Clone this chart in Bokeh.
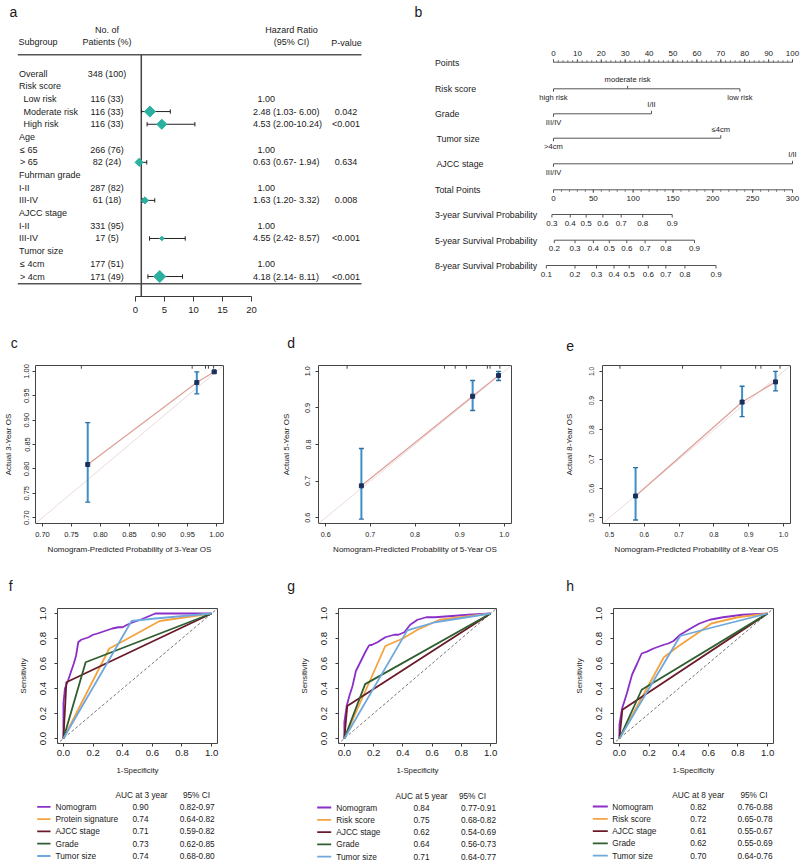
import numpy as np
from bokeh.plotting import figure
from bokeh.models import Range1d, FixedTicker, NumeralTickFormatter, ColumnDataSource
from bokeh.layouts import row, column
from bokeh.embed import file_html
from bokeh.resources import INLINE
from bokeh.core.properties import value

FONT = "Liberation Sans"
TXT = "#1a1a1a"
AXC = "#3a3a3a"
nan = float("nan")

# ================= DATA =================
# ---- panel a: forest plot
fp_labels = ["Overall", "Risk score", "Low risk", "Moderate risk", "High risk",
             "Age", "≤ 65", "> 65", "Fuhrman grade", "I-II", "III-IV",
             "AJCC stage", "I-II", "III-IV", "Tumor size", "≤ 4cm", "> 4cm"]
fp_counts = ["348 (100)", "", "116 (33)", "116 (33)", "116 (33)", "", "266 (76)", "82 (24)",
             "", "287 (82)", "61 (18)", "", "331 (95)", "17 (5)", "", "177 (51)", "171 (49)"]
fp_hr = [nan, nan, 1.00, 2.48, 4.53, nan, 1.00, 0.63, nan, 1.00, 1.63, nan, 1.00, 4.55, nan, 1.00, 4.18]
fp_lo = [nan, nan, nan, 1.03, 2.00, nan, nan, 0.67, nan, nan, 1.20, nan, nan, 2.42, nan, nan, 2.14]
fp_hi = [nan, nan, nan, 6.00, 10.24, nan, nan, 1.94, nan, nan, 3.32, nan, nan, 8.57, nan, nan, 8.11]
fp_p = ["", "", "", "0.042", "<0.001", "", "", "0.634", "", "", "0.008", "", "", "<0.001", "", "", "<0.001"]
fp_axis_ticks = [0, 5, 10, 15, 20]

# ---- panel b: nomogram (points / total points)
nomo_point_ticks = [0, 10, 20, 30, 40, 50, 60, 70, 80, 90, 100]
risk_levels = ["high risk", "moderate risk", "low risk"]
risk_points = [0, 31, 78]
grade_levels = ["III/IV", "I/II"]
grade_points = [0, 41]
size_levels = [">4cm", "≤4cm"]
size_points = [0, 70]
ajcc_levels = ["III/IV", "I/II"]
ajcc_points = [0, 100]
total_ticks = [0, 50, 100, 150, 200, 250, 300]
surv3_probs = [0.3, 0.4, 0.5, 0.6, 0.7, 0.8, 0.9]
surv3_total = [-2, 21, 41, 62, 85, 112, 149]
surv5_probs = [0.2, 0.3, 0.4, 0.5, 0.6, 0.7, 0.8, 0.9]
surv5_total = [1, 27, 50, 70, 92, 115, 141, 177]
surv8_probs = [0.1, 0.2, 0.3, 0.4, 0.5, 0.6, 0.7, 0.8, 0.9]
surv8_total = [-9, 27, 54, 76, 95, 119, 141, 165, 204]

# ---- panels c-e: calibration
c_pred = [0.778, 0.966, 0.996]
c_obs = [0.809, 0.977, 0.999]
c_lo = [0.732, 0.954, 0.997]
c_hi = [0.895, 0.999, 1.000]
c_rug = [0.767, 0.958, 0.981, 0.986, 0.995]
c_ticks = [0.70, 0.75, 0.80, 0.85, 0.90, 0.95, 1.00]

d_pred = [0.680, 0.929, 0.987]
d_obs = [0.687, 0.932, 0.989]
d_lo = [0.596, 0.893, 0.975]
d_hi = [0.789, 0.975, 1.000]
d_rug = [0.648, 0.866, 0.890, 0.915, 0.962, 0.968, 0.990]
d_ticks = [0.6, 0.7, 0.8, 0.9, 1.0]

e_pred = [0.575, 0.881, 0.977]
e_obs = [0.574, 0.895, 0.964]
e_lo = [0.492, 0.845, 0.933]
e_hi = [0.671, 0.949, 1.000]
e_rug = [0.530, 0.710, 0.820, 0.920, 0.935, 0.990]
e_ticks = [0.5, 0.6, 0.7, 0.8, 0.9, 1.0]

# ---- panels f-h: ROC curves
roc_ticks = [0.0, 0.2, 0.4, 0.6, 0.8, 1.0]
f_nomo_x = [0, 0, 0.01, 0.03, 0.05, 0.07, 0.085, 0.10, 0.12, 0.17, 0.20, 0.23, 0.28, 0.33, 0.37, 0.40, 0.43, 0.47, 0.52, 0.56, 0.62, 1]
f_nomo_y = [0, 0.28, 0.40, 0.46, 0.53, 0.60, 0.66, 0.77, 0.79, 0.81, 0.83, 0.84, 0.86, 0.88, 0.89, 0.89, 0.91, 0.93, 0.95, 0.97, 1.00, 1]
f_prot_x = [0, 0.31, 0.42, 0.65, 1]
f_prot_y = [0, 0.72, 0.79, 0.94, 1]
f_ajcc_x = [0, 0.02, 1]
f_ajcc_y = [0, 0.45, 1]
f_grade_x = [0, 0.15, 1]
f_grade_y = [0, 0.61, 1]
f_size_x = [0, 0.46, 0.62, 1]
f_size_y = [0, 0.94, 0.96, 1]

g_nomo_x = [0, 0, 0.016, 0.034, 0.056, 0.079, 0.113, 0.147, 0.169, 0.19, 0.226, 0.28, 0.34, 0.37, 0.41, 0.45, 0.50, 0.56, 0.62, 0.85, 1]
g_nomo_y = [0, 0.13, 0.26, 0.34, 0.42, 0.54, 0.62, 0.70, 0.745, 0.75, 0.77, 0.81, 0.83, 0.83, 0.85, 0.91, 0.95, 0.97, 0.97, 0.99, 1]
g_risk_x = [0, 0.28, 0.40, 0.50, 0.65, 1]
g_risk_y = [0, 0.74, 0.80, 0.87, 0.95, 1]
g_ajcc_x = [0, 0.02, 1]
g_ajcc_y = [0, 0.26, 1]
g_grade_x = [0, 0.142, 1]
g_grade_y = [0, 0.435, 1]
g_size_x = [0, 0.43, 0.62, 1]
g_size_y = [0, 0.865, 0.93, 1]

h_nomo_x = [0, 0, 0.018, 0.05, 0.085, 0.12, 0.15, 0.186, 0.23, 0.30, 0.33, 0.365, 0.41, 0.48, 0.54, 0.61, 0.70, 0.83, 1]
h_nomo_y = [0, 0.11, 0.24, 0.36, 0.51, 0.60, 0.68, 0.695, 0.72, 0.75, 0.76, 0.78, 0.83, 0.88, 0.92, 0.95, 0.97, 0.99, 1]
h_risk_x = [0, 0.30, 0.40, 0.50, 0.62, 0.80, 1]
h_risk_y = [0, 0.65, 0.74, 0.82, 0.92, 0.97, 1]
h_ajcc_x = [0, 0.02, 1]
h_ajcc_y = [0, 0.23, 1]
h_grade_x = [0, 0.15, 1]
h_grade_y = [0, 0.39, 1]
h_size_x = [0, 0.41, 0.60, 1]
h_size_y = [0, 0.82, 0.88, 1]

f_names = ["Nomogram", "Protein signature", "AJCC stage", "Grade", "Tumor size"]
gh_names = ["Nomogram", "Risk score", "AJCC stage", "Grade", "Tumor size"]
f_auc = ["0.90", "0.74", "0.71", "0.73", "0.74"]
f_ci = ["0.82-0.97", "0.64-0.82", "0.59-0.82", "0.62-0.85", "0.68-0.80"]
g_auc = ["0.84", "0.75", "0.62", "0.64", "0.71"]
g_ci = ["0.77-0.91", "0.68-0.82", "0.54-0.69", "0.56-0.73", "0.64-0.77"]
h_auc = ["0.82", "0.72", "0.61", "0.62", "0.70"]
h_ci = ["0.76-0.88", "0.65-0.78", "0.55-0.67", "0.55-0.69", "0.64-0.76"]

# ================= STYLE =================
TEAL = "#2bb0a0"
ROC_COLORS = ["#8b2fc9", "#f4a340", "#6b1a2a", "#2f5e2f", "#6fa8dc"]
fp_indent_px = [18.5, 18.5, 23, 23, 23, 18.5, 19.5, 19.5, 18.5, 18.5, 18.5, 18.5, 18.5, 18.5, 18.5, 19.5, 19.5]
fp_marker_px = [0, 0, 0, 7.8, 7.2, 0, 0, 5.8, 0, 0, 5.0, 0, 0, 3.2, 0, 0, 8.5]


def base_fig(w, h, xr, yr, **kw):
    p = figure(width=w, height=h, x_range=xr, y_range=yr, output_backend="svg",
               toolbar_location=None, **kw)
    p.xgrid.visible = False
    p.ygrid.visible = False
    p.background_fill_color = "white"
    p.border_fill_color = "white"
    return p


def txt(p, x, y, t, size, align="left", baseline="middle", color=TXT, **kw):
    p.text(x=x, y=y, text=t, text_font=value(FONT), text_font_size=size,
           text_align=align, text_baseline=baseline, text_color=color, **kw)


ROW1_H = 318
FRAME1_H = 296

# ================= PANEL A =================
PX0, PXU = 135.0, 5.8


def fx(px):
    return (px - PX0) / PXU


pa = figure(width=400, height=ROW1_H, x_range=Range1d(fx(0), fx(400)), y_range=Range1d(FRAME1_H, 0),
            output_backend="svg", toolbar_location=None, y_axis_location=None,
            min_border_left=0, min_border_right=0, min_border_top=0,
            min_border_bottom=ROW1_H - FRAME1_H)
pa.xgrid.visible = False
pa.ygrid.visible = False
pa.outline_line_color = None
ax = pa.xaxis[0]
ax.ticker = FixedTicker(ticks=fp_axis_ticks)
ax.bounds = (fp_axis_ticks[0], fp_axis_ticks[-1])
ax.axis_line_color = AXC
ax.axis_line_width = 1.2
ax.major_tick_line_color = AXC
ax.major_tick_out = 5
ax.major_tick_in = 0
ax.minor_tick_line_color = None
ax.major_label_text_font = FONT
ax.major_label_text_font_size = "9.5px"
ax.major_label_text_color = TXT
ax.major_label_standoff = 5

n = len(fp_labels)
fy = [73.0 + i * 12.69 for i in range(n)]

txt(pa, [fx(9)], [11], ["a"], "14px")
txt(pa, [fx(18)], [41], ["Subgroup"], "9px")
txt(pa, [fx(106.5), fx(106.5)], [29, 41], ["No. of", "Patients (%)"], "9px", align="center")
txt(pa, [fx(291), fx(291)], [29, 41], ["Hazard Ratio", "(95% CI)"], "9px", align="center")
txt(pa, [fx(346)], [42], ["P-value"], "9px", align="center")
pa.segment(x0=[fx(17.3)] * 2, x1=[fx(361)] * 2, y0=[54.3, 283.3], y1=[54.3, 283.3],
           line_color="#555555", line_width=1.6)
pa.segment(x0=[1.0], x1=[1.0], y0=[54.3], y1=[FRAME1_H], line_color="#444444", line_width=1.5)

txt(pa, [fx(v) for v in fp_indent_px], fy, fp_labels, "9px")
txt(pa, [fx(106.5)] * n, fy, fp_counts, "9px", align="center")

hr_txt, hr_y, hr_x = [], [], []
for i in range(n):
    if np.isnan(fp_hr[i]):
        continue
    if np.isnan(fp_lo[i]):
        hr_txt.append(f"{fp_hr[i]:.2f}")
        hr_x.append(fx(257))
    else:
        hr_txt.append(f"{fp_hr[i]:.2f} ({fp_lo[i]:.2f}-{fp_hi[i]:5.2f})")
        hr_x.append(fx(252.5))
    hr_y.append(fy[i])
txt(pa, hr_x, hr_y, hr_txt, "9px")
txt(pa, [fx(345.5)] * n, fy, fp_p, "9px", align="center")

ci_idx = [i for i in range(n) if not np.isnan(fp_lo[i])]
ci_src = ColumnDataSource(dict(
    hr=[fp_hr[i] for i in ci_idx], lo=[fp_lo[i] for i in ci_idx], hi=[fp_hi[i] for i in ci_idx],
    y=[fy[i] for i in ci_idx], y0=[fy[i] - 2.2 for i in ci_idx], y1=[fy[i] + 2.2 for i in ci_idx],
    sz=[fp_marker_px[i] for i in ci_idx]))
pa.segment(x0="lo", x1="hi", y0="y", y1="y", source=ci_src, line_color="#222222", line_width=1)
pa.segment(x0="lo", x1="lo", y0="y0", y1="y1", source=ci_src, line_color="#222222", line_width=1)
pa.segment(x0="hi", x1="hi", y0="y0", y1="y1", source=ci_src, line_color="#222222", line_width=1)
pa.scatter(x="hr", y="y", size="sz", marker="square", angle=np.pi / 4, source=ci_src,
           fill_color=TEAL, line_color=TEAL)

# ================= PANEL B =================
NX0, NXU = 553.0, 2.39


def nx(px):
    return (px - NX0) / NXU


pb = figure(width=400, height=ROW1_H, x_range=Range1d(nx(400), nx(800)), y_range=Range1d(FRAME1_H, 0),
            output_backend="svg", toolbar_location=None, x_axis_location=None, y_axis_location=None,
            min_border_left=0, min_border_right=0, min_border_top=0,
            min_border_bottom=ROW1_H - FRAME1_H)
pb.xgrid.visible = False
pb.ygrid.visible = False
pb.outline_line_color = None
NC = "#555555"
txt(pb, [nx(414)], [11], ["b"], "14px")

row_names = ["Points", "Risk score", "Grade", "Tumor size", "AJCC stage", "Total Points",
             "3-year Survival Probability", "5-year Survival Probability", "8-year Survival Probability"]
row_y = [61.7, 88.3, 113.3, 137.7, 163.3, 189.3, 214.0, 239.7, 265.0]
row_lab_x = [434.5, 434.5, 434.5, 436, 436, 434.5, 434.5, 434.5, 434.5]
txt(pb, [nx(v) for v in row_lab_x], [y + 0.3 for y in row_y], row_names, "8.8px")


def nomo_scale(y, xs, labels, above, size="7.6px", minor=None):
    k = len(xs)
    pb.segment(x0=[min(xs)], x1=[max(xs)], y0=[y], y1=[y], line_color=NC, line_width=1)
    dirs = [-1 if a else 1 for a in above]
    pb.segment(x0=xs, x1=xs, y0=[y] * k, y1=[y + 3 * d for d in dirs], line_color=NC, line_width=1)
    if minor is not None:
        m = len(minor)
        pb.segment(x0=minor, x1=minor, y0=[y] * m, y1=[y + 2 * dirs[0]] * m, line_color=NC, line_width=0.8)
    txt(pb, xs, [y + (-9 if a else 8.7) for a in above], labels, size, align="center")


nomo_scale(row_y[0], nomo_point_ticks, [str(v) for v in nomo_point_ticks], [True] * 11, "8px",
           minor=list(np.arange(nomo_point_ticks[0], nomo_point_ticks[-1] + 1, 2)))
nomo_scale(row_y[1], risk_points, risk_levels, [False, True, False])
nomo_scale(row_y[2], grade_points, grade_levels, [False, True])
nomo_scale(row_y[3], size_points, size_levels, [False, True])
nomo_scale(row_y[4], ajcc_points, ajcc_levels, [False, True])
nomo_scale(row_y[5], [t / 3 for t in total_ticks], [str(v) for v in total_ticks], [False] * 7, "8px",
           minor=[t / 3 for t in range(total_ticks[0], total_ticks[-1] + 1, 10)])
nomo_scale(row_y[6], [t / 3 for t in surv3_total], [f"{v:.1f}" for v in surv3_probs], [False] * 7, "8px")
nomo_scale(row_y[7], [t / 3 for t in surv5_total], [f"{v:.1f}" for v in surv5_probs], [False] * 8, "8px")
nomo_scale(row_y[8], [t / 3 for t in surv8_total], [f"{v:.1f}" for v in surv8_probs], [False] * 9, "8px")


# ================= helpers for R-style axes =================
def r_axes(p, tick_fs, lab_fs, x_std, xl_std, y_std, yl_std):
    for a in (p.xaxis[0], p.yaxis[0]):
        a.axis_line_color = None
        a.major_tick_line_color = AXC
        a.major_tick_out = 3
        a.major_tick_in = 0
        a.minor_tick_line_color = None
        a.major_label_text_font = FONT
        a.major_label_text_font_size = tick_fs
        a.major_label_text_color = TXT
        a.axis_label_text_font = FONT
        a.axis_label_text_font_size = lab_fs
        a.axis_label_text_font_style = "normal"
        a.axis_label_text_color = TXT
    p.xaxis[0].major_label_standoff = x_std
    p.xaxis[0].axis_label_standoff = xl_std
    p.yaxis[0].major_label_standoff = y_std
    p.yaxis[0].axis_label_standoff = yl_std
    p.yaxis[0].major_label_orientation = "vertical"
    p.outline_line_color = "#444444"
    p.outline_line_width = 1


def letter(p, t, off, sd):
    p.title.text = t
    p.title.align = "left"
    p.title.offset = off
    p.title.standoff = sd
    p.title.text_font = FONT
    p.title.text_font_size = "14px"
    p.title.text_font_style = "normal"
    p.title.text_color = TXT


# ================= PANELS C-E =================
ROW2_H = 242
ROW2_BT = 46
ROW2_BB = 37


def calib(t, w, bl, br, lim, ticks, fmt, pred, obs, lo, hi, rug, year, tick_fs, off, ystd, ylstd):
    span = lim[1] - lim[0]
    xr = Range1d(lim[0] - 0.04 * span, lim[1] + 0.04 * span)
    yr = Range1d(lim[0] - 0.04 * span, lim[1] + 0.04 * span)
    p = base_fig(w, ROW2_H, xr, yr, min_border_left=bl, min_border_right=br,
                 min_border_top=ROW2_BT, min_border_bottom=ROW2_BB)
    r_axes(p, tick_fs, "8px", 5, 5, ystd, ylstd)
    for a in (p.xaxis[0], p.yaxis[0]):
        a.ticker = FixedTicker(ticks=ticks)
        a.formatter = NumeralTickFormatter(format=fmt)
    p.xaxis[0].axis_label = f"Nomogram-Predicted Probability of {year}-Year OS"
    p.yaxis[0].axis_label = f"Actual {year}-Year OS"
    letter(p, t, off, 29)
    p.line([0, 1.1], [0, 1.1], line_color="#ecdada", line_width=1)
    p.line(pred, obs, line_color="#de9f98", line_width=1.2)
    p.segment(x0=pred, x1=pred, y0=lo, y1=hi, line_color="#3d8ec9", line_width=2)
    p.scatter(pred + pred, lo + hi, marker="dash", size=5, line_color="#2f6f9f", line_width=1.3)
    p.scatter(pred, obs, marker="square", size=4, fill_color="#1a2f5a", line_color="#1a2f5a")
    top = yr.end
    p.segment(x0=rug, x1=rug, y0=[top] * len(rug), y1=[top - 0.022 * span] * len(rug),
              line_color="#444444", line_width=1)
    return p


pc = calib("c", 270, 33, 47, (0.70, 1.00), c_ticks, "0.00", c_pred, c_obs, c_lo, c_hi, c_rug, 3,
           "7.5px", -24.7, 3, 9)
pd_ = calib("d", 260, 48, 19, (0.60, 1.00), d_ticks, "0.0", d_pred, d_obs, d_lo, d_hi, d_rug, 5,
            "7.2px", -31.3, 5, 12)
pe = calib("e", 270, 72, 10, (0.50, 1.00), e_ticks, "0.0", e_pred, e_obs, e_lo, e_hi, e_rug, 8,
           "6.8px", -36.3, 5, 13)

# ================= PANELS F-H =================
ROC_H = 225
ROC_BT = 48
ROC_BB = 42
LEG_TOP, LEG_BOT = 785, 861


def roc(t, w, bl, br, curves, off):
    p = base_fig(w, ROC_H, Range1d(-0.04, 1.04), Range1d(-0.04, 1.04), min_border_left=bl,
                 min_border_right=br, min_border_top=ROC_BT, min_border_bottom=ROC_BB)
    r_axes(p, "9.6px", "7.8px", 3, 7, 9, 9)
    for a in (p.xaxis[0], p.yaxis[0]):
        a.ticker = FixedTicker(ticks=roc_ticks)
        a.formatter = NumeralTickFormatter(format="0.0")
    p.xaxis[0].axis_label = "1-Specificity"
    p.yaxis[0].axis_label = "Sensitivity"
    letter(p, t, off, 29)
    p.line([-0.1, 1.1], [-0.1, 1.1], line_color="#777777", line_dash="3 2", line_width=1)
    for (xs, ys), col in zip(curves, ROC_COLORS):
        p.line(xs, ys, line_color=col, line_width=1.8)
    return p


def roc_legend(xr, names, auc, ci, year, lx0, lx1, name_x, auc_c, ci_c, hdr_auc, hdr_ci, hdr_y):
    p = figure(width=xr[1] - xr[0], height=LEG_BOT - LEG_TOP, x_range=Range1d(*xr),
               y_range=Range1d(LEG_BOT, LEG_TOP),
               output_backend="svg", toolbar_location=None, x_axis_location=None, y_axis_location=None,
               min_border_left=0, min_border_right=0, min_border_top=0, min_border_bottom=0)
    p.xgrid.visible = False
    p.ygrid.visible = False
    p.outline_line_color = None
    ys = [hdr_y + 12 + 12.3 * i for i in range(len(names))]
    txt(p, [hdr_auc, hdr_ci], [hdr_y, hdr_y], [f"AUC at {year} year", "95% CI"], "8.3px", align="center")
    p.segment(x0=[lx0] * len(names), x1=[lx1] * len(names), y0=ys, y1=ys,
              line_color=ROC_COLORS, line_width=1.8)
    txt(p, [name_x] * len(names), ys, names, "8.3px")
    txt(p, [auc_c] * len(names), ys, auc, "8.3px", align="center")
    txt(p, [ci_c] * len(names), ys, ci, "8.3px", align="center")
    return p


pf = roc("f", 265, 57, 48, [(f_nomo_x, f_nomo_y), (f_prot_x, f_prot_y), (f_ajcc_x, f_ajcc_y),
                            (f_grade_x, f_grade_y), (f_size_x, f_size_y)], -48.7)
pg = roc("g", 265, 73, 34, [(g_nomo_x, g_nomo_y), (g_risk_x, g_risk_y), (g_ajcc_x, g_ajcc_y),
                            (g_grade_x, g_grade_y), (g_size_x, g_size_y)], -51.3)
ph = roc("h", 270, 83, 27, [(h_nomo_x, h_nomo_y), (h_risk_x, h_risk_y), (h_ajcc_x, h_ajcc_y),
                            (h_grade_x, h_grade_y), (h_size_x, h_size_y)], -47.3)

lf = roc_legend((0, 265), f_names, f_auc, f_ci, 3, 36.7, 50, 55, 140, 196.7, 141, 196, 794.3)
lg = roc_legend((265, 530), gh_names, g_auc, g_ci, 5, 316.7, 330.7, 335.7, 421, 478, 421, 472, 795)
lh = roc_legend((530, 800), gh_names, h_auc, h_ci, 8, 592.3, 607.3, 611.7, 697.8, 754.5, 697.8, 753.5, 794)

layout = column(
    row(pa, pb, spacing=0),
    row(pc, pd_, pe, spacing=0),
    row(pf, pg, ph, spacing=0),
    row(lf, lg, lh, spacing=0),
    spacing=0,
)

open("out.html", "w").write(file_html(layout, INLINE))
